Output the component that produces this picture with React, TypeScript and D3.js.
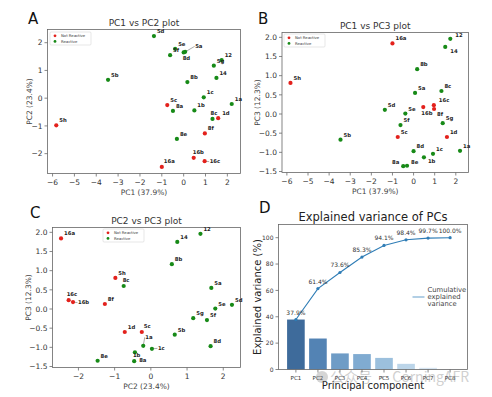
import React from "react";
import * as d3 from "d3";

const names = ["5d","5e","5a","8d","5f","12","5g","5b","8b","14","1c","1a","5c","8a","1b","8c","1d","5h","8f","8e","16b","16c","16a"];
const reactive = [1,1,1,1,1,1,1,1,1,1,1,1,0,1,1,1,0,0,0,1,0,0,0];
const pc1 = [-1.36,-0.39,0.07,0.0,-0.62,1.74,1.38,-3.46,0.17,1.5,0.92,2.2,-0.75,-0.49,0.49,1.32,1.58,-5.83,0.97,-0.31,0.46,0.96,-1.0];
const pc2 = [2.24,1.78,1.67,1.65,1.55,1.37,1.17,0.66,0.58,0.73,0.03,-0.21,-0.25,-0.46,-0.44,-0.75,-0.72,-0.98,-1.27,-1.47,-2.15,-2.27,-2.48];
const pc3 = [0.11,0.01,0.55,-0.97,-0.29,1.96,-0.24,-0.67,1.17,1.75,-1.04,-0.96,-0.6,-1.36,-1.13,0.6,-0.6,0.81,0.13,-1.35,0.18,0.23,1.84];

const pcLabels = ["PC1","PC2","PC3","PC4","PC5","PC6","PC7","PC8"];
const varExpl = [37.9,23.5,12.2,11.7,8.8,4.3,1.3,0.3];
const cumLabels = ["37.9%","61.4%","73.6%","85.3%","94.1%","98.4%","99.7%","100.0%"];
const barColors = ["#3e6b9b","#5383b4","#6e9cc6","#80abd1","#9cc0dd","#bcd5e9","#d7e5f2","#e9f1f8"];

const RED = "#e3211c";
const GREEN = "#178a17";
const FONT = "DejaVu Sans, sans-serif";

type Off = { dx: number; dy: number; line?: boolean; anchor?: string };
const offA: Record<string, Off> = {
  "5a": { dx: 10, dy: -4, line: true },
  "8d": { dx: -1, dy: 8 },
  "16c": { dx: 5, dy: 2, line: true },
  "16b": { dx: -1, dy: -4 },
  "8c": { dx: -2, dy: -4 },
  "1d": { dx: 4, dy: -3 },
  "16a": { dx: 2, dy: -4 },
};
const offB: Record<string, Off> = {
  "16b": { dx: -2, dy: 8 },
  "8f": { dx: 3, dy: 7 },
  "16c": { dx: 5, dy: -3 },
  "14": { dx: 5, dy: 6 },
  "12": { dx: 5, dy: -2 },
  "8a": { dx: -4, dy: -2, anchor: "end" },
  "1b": { dx: 4, dy: 6 },
  "8e": { dx: 4, dy: -2 },
};
const offC: Record<string, Off> = {
  "16b": { dx: 5, dy: 2, line: true },
  "16c": { dx: -2, dy: -4 },
  "1a": { dx: 2, dy: -7, line: true },
  "1b": { dx: -2, dy: 5 },
  "1c": { dx: 6, dy: 1, line: true },
  "8a": { dx: 5, dy: 1 },
  "8c": { dx: -1, dy: -4 },
  "5c": { dx: 2, dy: -4 },
  "1d": { dx: 3, dy: -3 },
};

function extentPad(v: number[]): [number, number] {
  const [a, b] = d3.extent(v) as [number, number];
  const m = (b - a) * 0.05;
  return [a - m, b + m];
}

type ScatterProps = {
  letter: string; title: string; xs: number[]; ys: number[];
  xLabel: string; yLabel: string; xTicks: number[]; yTicks: number[];
  yFmt: (n: number) => string;
  box: { l: number; r: number; t: number; b: number };
  letterPos: [number, number];
  legend: [number, number];
  offs: Record<string, Off>;
};

function fmtMinus(s: string) { return s.replace("-", "\u2212"); }

function Scatter(p: ScatterProps) {
  const x = d3.scaleLinear().domain(extentPad(p.xs)).range([p.box.l, p.box.r]);
  const y = d3.scaleLinear().domain(extentPad(p.ys)).range([p.box.b, p.box.t]);
  const cx = (p.box.l + p.box.r) / 2;
  const cy = (p.box.t + p.box.b) / 2;
  const [lx, ly] = p.legend;
  return (
    <g fontFamily={FONT}>
      <text x={p.letterPos[0]} y={p.letterPos[1]} fontSize={15} fill="#111">{p.letter}</text>
      <text x={cx} y={p.box.t - 4} fontSize={9} textAnchor="middle" fill="#333">{p.title}</text>
      {p.xTicks.map((t) => (
        <g key={"x" + t}>
          <line x1={x(t)} x2={x(t)} y1={p.box.b} y2={p.box.b + 3} stroke="#555" strokeWidth={0.7} />
          <text x={x(t)} y={p.box.b + 11} fontSize={7.5} textAnchor="middle" fill="#333">{fmtMinus(String(t))}</text>
        </g>
      ))}
      {p.yTicks.map((t) => (
        <g key={"y" + t}>
          <line x1={p.box.l - 3} x2={p.box.l} y1={y(t)} y2={y(t)} stroke="#555" strokeWidth={0.7} />
          <text x={p.box.l - 5} y={y(t) + 2.7} fontSize={7.5} textAnchor="end" fill="#333">{fmtMinus(p.yFmt(t))}</text>
        </g>
      ))}
      <text x={cx} y={p.box.b + 21} fontSize={7.5} textAnchor="middle" fill="#444">{p.xLabel}</text>
      <text transform={`translate(${p.box.l - (p.yFmt === String ? 16 : 22)},${cy}) rotate(-90)`} fontSize={7.5} textAnchor="middle" fill="#444">{p.yLabel}</text>
      <rect x={p.box.l} y={p.box.t} width={p.box.r - p.box.l} height={p.box.b - p.box.t} fill="none" stroke="#666" strokeWidth={0.8} />
      <rect x={lx} y={ly} width={41} height={13} fill="#fff" stroke="#ccc" strokeWidth={0.5} rx={1} />
      <circle cx={lx + 5} cy={ly + 3.8} r={1.4} fill={RED} />
      <text x={lx + 11} y={ly + 5.3} fontSize={3.8} fill="#333">Not Reactive</text>
      <circle cx={lx + 5} cy={ly + 9.4} r={1.4} fill={GREEN} />
      <text x={lx + 11} y={ly + 10.9} fontSize={3.8} fill="#333">Reactive</text>
      {names.map((n, i) => {
        const px = x(p.xs[i]);
        const py = y(p.ys[i]);
        const o = p.offs[n] || { dx: 3, dy: -3 };
        return (
          <g key={n}>
            {o.line && <line x1={px} y1={py} x2={px + o.dx - 0.5} y2={py + o.dy - 1.5} stroke="#555" strokeWidth={0.5} />}
            <circle cx={px} cy={py} r={2.1} fill={reactive[i] ? GREEN : RED} />
            <text x={px + o.dx} y={py + o.dy} fontSize={5.3} fontWeight="bold" fill="#222" textAnchor={o.anchor || "start"}>{n}</text>
          </g>
        );
      })}
    </g>
  );
}

function VarPanel() {
  const box = { l: 278.5, r: 467.5, t: 224.5, b: 369.5 };
  const x = d3.scaleLinear().domain([-0.79, 7.79]).range([box.l, box.r]);
  const y = d3.scaleLinear().domain([0, 110]).range([box.b, box.t]);
  const cum: number[] = Array.from(d3.cumsum(varExpl));
  const line = d3.line<number>().x((_, i) => x(i)).y((d) => y(d));
  const yTicks = [0, 20, 40, 60, 80, 100];
  return (
    <g fontFamily={FONT}>
      <text x={259} y={213} fontSize={15} fill="#111">D</text>
      <text x={(box.l + box.r) / 2} y={box.t - 4} fontSize={11.5} textAnchor="middle" fill="#222">Explained variance of PCs</text>
      {varExpl.map((v, i) => (
        <rect key={i} x={x(i - 0.4)} y={y(v)} width={x(0.8) - x(0)} height={y(0) - y(v)} fill={barColors[i]} />
      ))}
      {yTicks.map((t) => (
        <g key={t}>
          <line x1={box.l - 3} x2={box.l} y1={y(t)} y2={y(t)} stroke="#555" strokeWidth={0.7} />
          <text x={box.l - 5} y={y(t) + 2.2} fontSize={6} textAnchor="end" fill="#333">{t}</text>
        </g>
      ))}
      {pcLabels.map((l, i) => (
        <g key={l}>
          <line x1={x(i)} x2={x(i)} y1={box.b} y2={box.b + 3} stroke="#555" strokeWidth={0.7} />
          <text x={x(i)} y={box.b + 10} fontSize={5.5} textAnchor="middle" fill="#333">{l}</text>
        </g>
      ))}
      <path d={line(cum) || ""} fill="none" stroke="#2f7db6" strokeWidth={1.1} />
      {cum.map((c, i) => (
        <g key={"c" + i}>
          <circle cx={x(i)} cy={y(c)} r={1.6} fill="#2f7db6" />
          <text x={x(i)} y={y(c) - 5} fontSize={6} textAnchor="middle" fill="#333">{cumLabels[i]}</text>
        </g>
      ))}
      <rect x={box.l} y={box.t} width={box.r - box.l} height={box.b - box.t} fill="none" stroke="#666" strokeWidth={0.8} />
      <line x1={412.5} x2={424.5} y1={297} y2={297} stroke="#7fb0d4" strokeWidth={1.2} />
      <text fontSize={6.8} fill="#444">
        <tspan x={427.5} y={291.5}>Cumulative</tspan>
        <tspan x={427.5} y={298.5}>explained</tspan>
        <tspan x={427.5} y={305.5}>variance</tspan>
      </text>
      <text x={(box.l + box.r) / 2} y={box.b + 19} fontSize={10} textAnchor="middle" fill="#222">Principal component</text>
      <text transform={`translate(${box.l - 18},${(box.t + box.b) / 2}) rotate(-90)`} fontSize={10} textAnchor="middle" fill="#222">Explained variance (%)</text>
      <g opacity={0.3}>
        <circle cx={322} cy={377} r={6} fill="#777" />
        <text x={330} y={382} fontSize={14} fill="#666" fontFamily="Noto Sans CJK SC, sans-serif">公众号 · CorningAFR</text>
      </g>
    </g>
  );
}

export default function App() {
  const f1 = (n: number) => n.toFixed(1);
  return (
    <svg width={492} height={397} style={{ position: "absolute", left: 0, top: 0, background: "#fff" }}>
      <rect width={492} height={397} fill="#fff" />
      <Scatter letter="A" title="PC1 vs PC2 plot" xs={pc1} ys={pc2} xLabel="PC1 (37.9%)" yLabel="PC2 (23.4%)"
        xTicks={[-6,-5,-4,-3,-2,-1,0,1,2]} yTicks={[-2,-1,0,1,2]} yFmt={String}
        box={{ l: 47.5, r: 240.5, t: 29.5, b: 173.5 }} letterPos={[28, 24]} legend={[50, 32]} offs={offA} />
      <Scatter letter="B" title="PC1 vs PC3 plot" xs={pc1} ys={pc3} xLabel="PC1 (37.9%)" yLabel="PC3 (12.3%)"
        xTicks={[-6,-5,-4,-3,-2,-1,0,1,2]} yTicks={[-1.5,-1,-0.5,0,0.5,1,1.5,2]} yFmt={f1}
        box={{ l: 282, r: 468.5, t: 32.5, b: 172.5 }} letterPos={[258, 24]} legend={[284, 34]} offs={offB} />
      <Scatter letter="C" title="PC2 vs PC3 plot" xs={pc2} ys={pc3} xLabel="PC2 (23.4%)" yLabel="PC3 (12.3%)"
        xTicks={[-2,-1,0,1,2]} yTicks={[-1.5,-1,-0.5,0,0.5,1,1.5,2]} yFmt={f1}
        box={{ l: 52.5, r: 240.5, t: 227.5, b: 367.5 }} letterPos={[30, 218]} legend={[103, 229]} offs={offC} />
      <VarPanel />
    </svg>
  );
}
